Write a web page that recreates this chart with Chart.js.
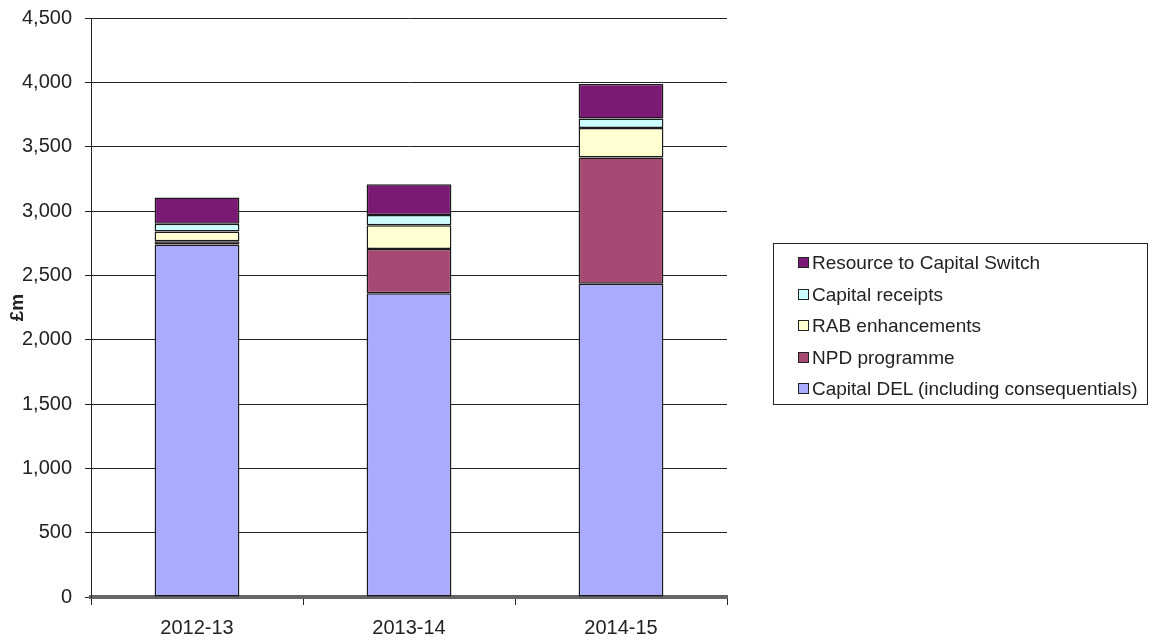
<!DOCTYPE html>
<html><head><meta charset="utf-8">
<script src="https://cdn.jsdelivr.net/npm/chart.js@4/dist/chart.umd.min.js"></script>
<style>
html,body{margin:0;padding:0;background:#fff;}
#wrap{position:relative;width:1159px;height:640px;}
#legend{position:absolute;left:773px;top:243px;width:375px;height:162px;border:1px solid #222;box-sizing:border-box;font-family:"Liberation Sans",Arial,sans-serif;font-size:19px;color:#222;padding-top:3px;}
.item{height:31.5px;line-height:31.5px;padding-left:24px;white-space:nowrap;}
.sw{display:inline-block;width:9px;height:9px;border:1.5px solid #222;margin-right:3px;vertical-align:1px;}
</style></head>
<body><div id="wrap"><canvas id="c" width="1159" height="640"></canvas><div id="legend"></div></div>
<script>
const categories = ['2012-13','2013-14','2014-15'];
const capitalDEL = [2740, 2360, 2435];
const npdProgramme = [25, 345, 980];
const rabEnhancements = [75, 185, 230];
const capitalReceipts = [60, 78, 73];
const resourceSwitch = [205, 240, 270];
const seriesNames = ['Capital DEL (including consequentials)','NPD programme','RAB enhancements','Capital receipts','Resource to Capital Switch'];
const seriesColors = ['#AAAAFF','#A64A74','#FFFFD2','#CCFFFF','#7A1A74'];
const seriesValues = [capitalDEL, npdProgramme, rabEnhancements, capitalReceipts, resourceSwitch];
const yTicks = {min:0, max:4500, step:500};

const font = {family:'"Liberation Sans", Arial, sans-serif', size:20};
const datasets = seriesValues.map((v,i)=>({
  label: seriesNames[i], data: v, backgroundColor: seriesColors[i],
  borderColor:'#1a1a1a', borderWidth:1.5, borderSkipped:false,
  barPercentage:0.4, categoryPercentage:1.0
}));

new Chart(document.getElementById('c'), {
  type:'bar',
  data:{labels:categories, datasets},
  options:{
    responsive:false, animation:false,
    layout:{padding:{left:0, top:18, right:432, bottom:0}},
    plugins:{legend:{display:false}, tooltip:{enabled:false}},
    scales:{
      x:{stacked:true,
        grid:{drawOnChartArea:false, offset:true, tickLength:8, color:'#222'},
        border:{color:'#666', width:4},
        ticks:{font, color:'#222', padding:11},
        afterFit(s){ s.height = 43; s.paddingLeft = 0; s.paddingRight = 0; }
      },
      y:{stacked:true, min:yTicks.min, max:yTicks.max,
        grid:{color:'#222', lineWidth:1, tickLength:6},
        border:{color:'#222', width:1},
        ticks:{stepSize:yTicks.step, font, color:'#222', padding:13,
          callback:v=>v.toLocaleString('en-GB')},
        title:{display:true, text:'£m', font:{...font, size:19, weight:'bold'}, color:'#222', padding:{top:6,bottom:0}},
        afterFit(s){ s.width = 91; s.paddingTop = 0; s.paddingBottom = 0; }
      }
    }
  }
});

const lg = document.getElementById('legend');
for (let i = seriesNames.length-1; i >= 0; i--) {
  const d = document.createElement('div'); d.className='item';
  d.innerHTML = '<span class="sw" style="background:'+seriesColors[i]+'"></span>'+seriesNames[i];
  lg.appendChild(d);
}
</script></body></html>
